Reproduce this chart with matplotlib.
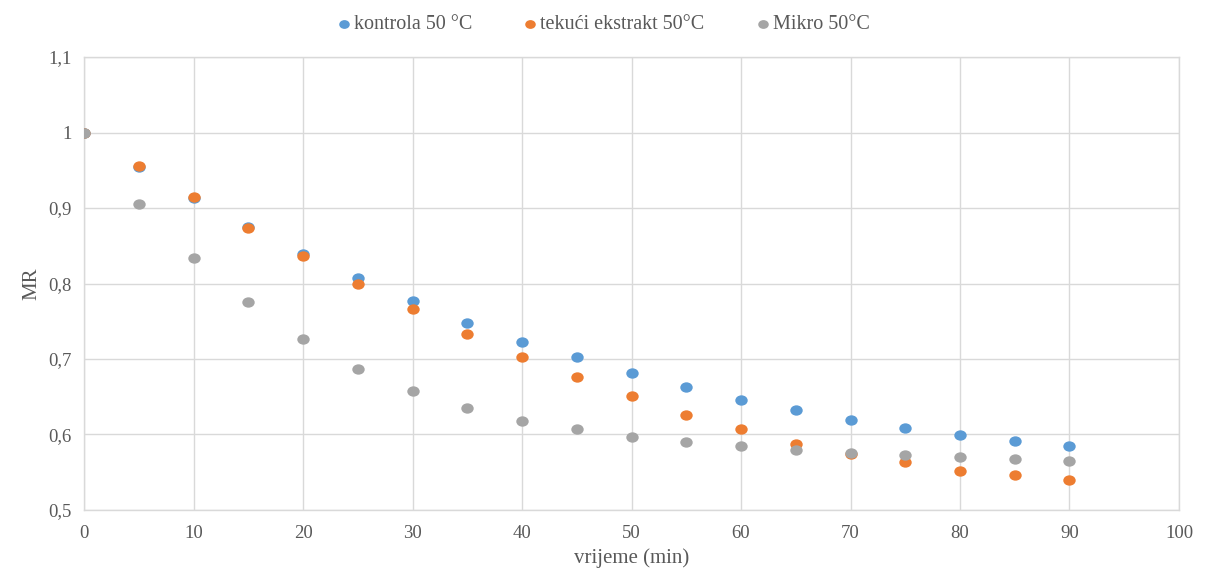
import matplotlib.pyplot as plt
from matplotlib.path import Path
from matplotlib.transforms import Affine2D
from matplotlib.ticker import FuncFormatter, MultipleLocator

plt.rcParams['font.family'] = ['Liberation Serif', 'DejaVu Serif']

time_min = [0, 5, 10, 15, 20, 25, 30, 35, 40, 45, 50, 55, 60, 65, 70, 75, 80, 85, 90]
kontrola = [1.0, 0.954, 0.913, 0.875, 0.839, 0.807, 0.777, 0.748, 0.723, 0.702,
            0.681, 0.663, 0.646, 0.632, 0.619, 0.608, 0.599, 0.591, 0.585]
tekuci = [1.0, 0.956, 0.914, 0.873, 0.836, 0.799, 0.766, 0.733, 0.703, 0.676,
          0.651, 0.626, 0.607, 0.588, 0.574, 0.563, 0.552, 0.546, 0.540]
mikro = [1.0, 0.905, 0.834, 0.775, 0.727, 0.687, 0.658, 0.635, 0.618, 0.607,
         0.597, 0.590, 0.585, 0.580, 0.576, 0.573, 0.570, 0.568, 0.565]

labels = ['kontrola 50 °C', 'tekući ekstrakt 50°C', 'Mikro 50°C']
colors = ['#5B9BD5', '#ED7D31', '#A5A5A5']
text_color = '#595959'
grid_color = '#D9D9D9'

# the original chart is slightly stretched sideways, so the dots are ellipses
dot = Path.unit_circle().transformed(Affine2D().scale(1.2, 1.0))

fig = plt.figure(figsize=(12.06, 5.69), dpi=100)
ax = fig.add_axes([0.0697, 0.1037, 0.9079, 0.7961])

for ys, lab, col in zip([kontrola, tekuci, mikro], labels, colors):
    ax.scatter(time_min, ys, s=80, marker=dot, color=col, label=lab, zorder=3, linewidths=0)

ax.set_xlim(0, 100)
ax.set_ylim(0.5, 1.1)
ax.xaxis.set_major_locator(MultipleLocator(10))
ax.yaxis.set_major_locator(MultipleLocator(0.1))
ax.yaxis.set_major_formatter(FuncFormatter(lambda v, p: f'{v:.1f}'.rstrip('0').rstrip('.').replace('.', ',')))

ax.grid(True, color=grid_color, linewidth=1)
ax.set_axisbelow(True)
for sp in ax.spines.values():
    sp.set_color(grid_color)
    sp.set_linewidth(1)
ax.tick_params(length=0, labelsize=13.5, colors=text_color)
ax.tick_params(axis='x', pad=11)
ax.tick_params(axis='y', pad=9)

ax.set_xlabel('vrijeme (min)', fontsize=15, color=text_color, labelpad=4)
ax.set_ylabel('MR', fontsize=15, color=text_color, labelpad=5)

leg = fig.legend(loc='upper center', bbox_to_anchor=(0.499, 1.005), ncol=3, frameon=False,
                 fontsize=14.5, handletextpad=0.0, handlelength=1.0, columnspacing=2.4,
                 markerscale=0.85)
for t in leg.get_texts():
    t.set_color(text_color)

fig.savefig('out.png', dpi=100)
plt.close(fig)
